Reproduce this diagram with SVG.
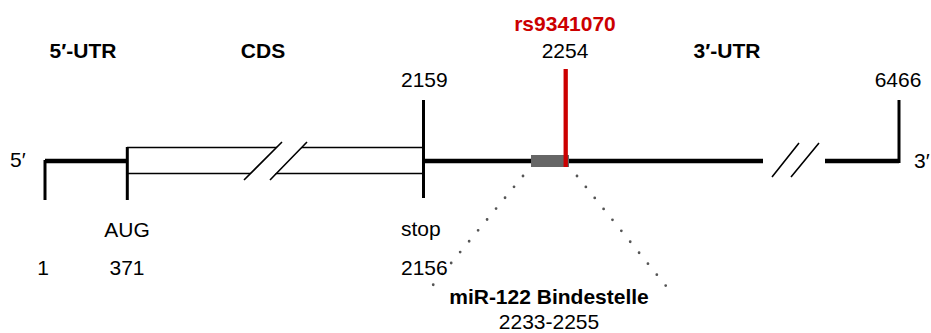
<svg xmlns="http://www.w3.org/2000/svg" width="931" height="333" viewBox="0 0 931 333">
<style>
text{font-family:"Liberation Sans",Arial,sans-serif;font-size:21px;fill:#000}
.b{font-weight:bold}
.red{fill:#cc0000}
.thick{stroke:#000;stroke-width:4.5;fill:none}
.vert{stroke:#000;stroke-width:3;fill:none}
.thin{stroke:#000;stroke-width:1.3;fill:none}
.slash{stroke:#000;stroke-width:1.6;fill:none}
.dots{stroke:#555;stroke-width:2.8;stroke-linecap:round;stroke-dasharray:0 14.1;fill:none}
</style>
<rect width="931" height="333" fill="#fff"/>
<g id="labels-top">
<text class="b" x="83" y="58" text-anchor="middle">5′-UTR</text>
<text class="b" x="263" y="58" text-anchor="middle">CDS</text>
<text class="b" x="727" y="58" text-anchor="middle">3′-UTR</text>
<text class="b red" x="565" y="31" text-anchor="middle">rs9341070</text>
<text x="565" y="58" text-anchor="middle">2254</text>
<text x="401" y="87">2159</text>
<text x="898" y="87" text-anchor="middle">6466</text>
<text x="10" y="167">5′</text>
<text x="914" y="168">3′</text>
</g>
<g id="five-utr">
<path class="vert" d="M45 160V200"/>
<path class="thick" d="M45 161H127"/>
</g>
<g id="cds">
<path class="thin" d="M127 147.5H425M127 173.5H425"/>
<polygon points="243,181 268,181 308,141 283,141" fill="#fff"/>
<path class="slash" d="M244 180L282 142M270 180L307 142"/>
<path class="vert" d="M127.3 147V200"/>
<path class="vert" d="M423.5 100V198"/>
</g>
<g id="three-utr">
<path class="thick" d="M423 161H763M825 161H899"/>
<path class="slash" d="M772 177L799 143M791 177L819 143"/>
<path class="vert" d="M899 100V163"/>
</g>
<g id="mir-site">
<rect x="531" y="155" width="38" height="12" fill="#666"/>
<path d="M565.7 69V167" stroke="#cc0000" stroke-width="4.3" fill="none"/>
</g>
<g id="connectors">
<path class="dots" d="M523 176L433 285"/>
<path class="dots" d="M577 176L666 286"/>
</g>
<g id="labels-bottom">
<text x="127" y="237" text-anchor="middle">AUG</text>
<text x="43" y="275" text-anchor="middle">1</text>
<text x="127" y="275" text-anchor="middle">371</text>
<text x="401" y="236">stop</text>
<text x="401" y="275">2156</text>
<text class="b" x="549" y="304" text-anchor="middle">miR-122 Bindestelle</text>
<text x="549" y="329" text-anchor="middle">2233-2255</text>
</g>
</svg>
